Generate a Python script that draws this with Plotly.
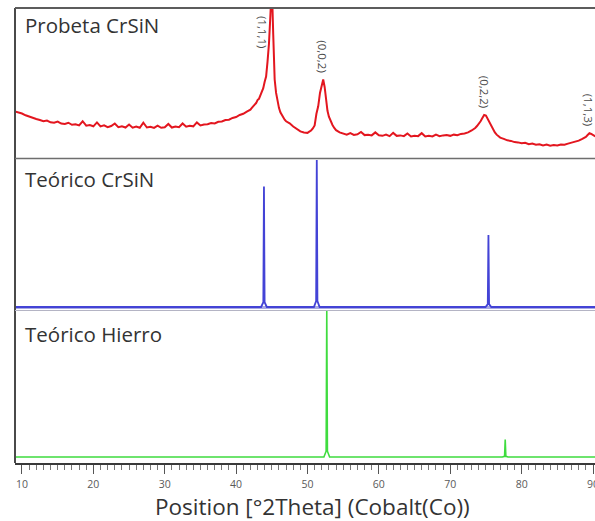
import plotly.graph_objects as go

W, H = 595, 521

# Measured pattern of the CrSiN specimen (Co K-alpha), counts in arbitrary units
two_theta = [
    9.0, 9.5, 10.0, 10.5, 11.0, 11.5, 12.0, 12.5, 13.0, 13.5, 14.0, 14.5, 15.0, 15.5,
    16.0, 16.5, 17.0, 17.5, 18.0, 18.5, 19.0, 19.5, 20.0, 20.5, 21.0, 21.5, 22.0, 22.5,
    23.0, 23.5, 24.0, 24.5, 25.0, 25.5, 26.0, 26.5, 27.0, 27.5, 28.0, 28.5, 29.0, 29.5,
    30.0, 30.5, 31.0, 31.5, 32.0, 32.5, 33.0, 33.5, 34.0, 34.5, 35.0, 35.5, 36.0, 36.5,
    37.0, 37.5, 38.0, 38.5, 39.0, 39.5, 40.0, 40.5, 41.0, 41.5, 42.0,
    42.2, 42.4, 42.6, 42.8, 43.0, 43.2, 43.4, 43.6, 43.8, 44.0, 44.2, 44.4, 44.6, 44.8,
    45.0, 45.2, 45.4, 45.6, 45.8, 46.0, 46.2, 46.4, 46.6, 46.8, 47.0,
    47.5, 48.0, 48.5, 49.0, 49.5, 50.0,
    50.25, 50.5, 50.75, 51.0, 51.25, 51.5, 51.75, 52.0, 52.2, 52.4, 52.6, 52.8, 53.0,
    53.25, 53.5, 53.75, 54.0, 54.5,
    55.0, 55.5, 56.0, 56.5, 57.0, 57.5, 58.0, 58.5, 59.0, 59.5, 60.0, 60.5, 61.0, 61.5,
    62.0, 62.5, 63.0, 63.5, 64.0, 64.5, 65.0, 65.5, 66.0, 66.5, 67.0, 67.5, 68.0, 68.5,
    69.0, 69.5, 70.0, 70.5, 71.0, 71.5, 72.0, 72.5, 73.0,
    73.25, 73.5, 73.75, 74.0, 74.25, 74.5, 74.75, 75.0, 75.25, 75.5, 75.75, 76.0,
    76.25, 76.5, 76.75, 77.0,
    77.5, 78.0, 78.5, 79.0, 79.5, 80.0, 80.5, 81.0, 81.5, 82.0, 82.5, 83.0, 83.5, 84.0,
    84.5, 85.0, 85.5, 86.0, 86.5, 87.0, 87.5, 88.0, 88.5, 89.0,
    89.25, 89.5, 89.75, 90.0, 90.25, 90.5,
]
counts = [
    305, 300, 292, 280, 270, 262, 255, 248, 240, 245, 233, 230, 238, 224,
    222, 230, 216, 220, 212, 240, 210, 215, 206, 232, 205, 212, 200, 208,
    225, 200, 206, 198, 218, 197, 205, 196, 230, 198, 203, 195, 210, 196,
    200, 222, 198, 205, 200, 225, 203, 210, 206, 232, 212, 218, 220, 228,
    225, 236, 238, 248, 250, 262, 268, 282, 290, 305, 318,
    330, 338, 352, 362, 382, 390, 412, 430, 462, 505, 540, 640, 760, 950,
    1160, 820, 520, 430, 370, 330, 300, 280, 262, 250, 240,
    226, 205, 188, 172, 165, 162,
    170, 178, 192, 212, 290, 340, 430, 490, 520, 470, 380, 310, 270,
    240, 215, 195, 180, 165,
    156, 150, 160, 148, 152, 168, 147, 150, 145, 165, 146, 142, 150, 140,
    162, 142, 145, 140, 158, 138, 143, 140, 160, 138, 142, 138, 150, 140,
    145, 148, 142, 150, 146, 155, 158, 165, 178,
    185, 195, 208, 222, 240, 262, 282, 278, 255, 230, 205, 180,
    165, 150, 140, 130,
    122, 112, 108, 100, 98, 92, 95, 86, 90, 82, 86, 78, 84, 76,
    80, 78, 84, 82, 90, 95, 102, 110, 122, 135,
    148, 160, 155, 145, 140, 138,
]

# Indexed reflections of the specimen
hkl_labels = ["(1,1,1)", "(0,0,2)", "(0,2,2)", "(1,1,3)"]
hkl_2theta = [45.0, 52.2, 74.9, 89.5]
hkl_counts = [1160, 520, 282, 160]

# Reference patterns (relative intensity, %)
crsin_2theta = [43.9, 51.3, 75.35]
crsin_rel = [82, 100, 49]
iron_2theta = [52.7, 77.7]
iron_rel = [100, 12]

panel_titles = ["Probeta CrSiN", "Teórico CrSiN", "Teórico Hierro"]
x_ticks = [10, 20, 30, 40, 50, 60, 70, 80, 90]
x_title = "Position [°2Theta] (Cobalt(Co))"

X_LO, X_HI = 9.02, 90.28


def px_y(py):
    return 1 - py / H


def stick_profile(pos, rel, lo=X_LO - 1, hi=X_HI + 1, foot=0.4):
    xs, ys = [lo], [0]
    for p, r in sorted(zip(pos, rel)):
        xs += [p - foot, p - 0.09, p, p + 0.09, p + foot]
        ys += [0, r * 0.04, r, r * 0.04, 0]
    xs.append(hi)
    ys.append(0)
    return xs, ys


fig = go.Figure()

fig.add_trace(go.Scatter(
    x=two_theta, y=counts, mode="lines", xaxis="x", yaxis="y",
    line=dict(color="#e3161f", width=2), hoverinfo="skip", showlegend=False,
))

bx, by = stick_profile(crsin_2theta, crsin_rel)
fig.add_trace(go.Scatter(
    x=bx, y=by, mode="lines", xaxis="x", yaxis="y2",
    line=dict(color="#4343d6", width=1.8), hoverinfo="skip", showlegend=False,
))

gx, gy = stick_profile(iron_2theta, iron_rel)
fig.add_trace(go.Scatter(
    x=gx, y=gy, mode="lines", xaxis="x", yaxis="y3",
    line=dict(color="#3fdc3f", width=1.6), hoverinfo="skip", showlegend=False,
))

axis_font = dict(family="Open Sans", size=10.5, color="#5a5a5a")

fig.update_layout(
    width=W, height=H,
    margin=dict(l=0, r=0, t=0, b=0, autoexpand=False),
    paper_bgcolor="white", plot_bgcolor="white",
    showlegend=False,
    xaxis=dict(
        domain=[15 / W, 1], range=[X_LO, X_HI], anchor="y3", automargin=False,
        showgrid=False, zeroline=False,
        showline=True, linecolor="#3a3a3a", linewidth=2,
        ticks="outside", ticklen=9, tickwidth=1, tickcolor="#555",
        tickvals=x_ticks, ticktext=[str(t) for t in x_ticks],
        tickfont=axis_font, ticklabelstandoff=1, ticklabeloverflow="allow",
        minor=dict(ticks="outside", ticklen=5, tickwidth=1, tickcolor="#777", dtick=1),
    ),
    yaxis=dict(domain=[px_y(157), px_y(8)], range=[0, 1000], visible=False,
               automargin=False),
    yaxis2=dict(domain=[px_y(309), px_y(159)], range=[-1.36, 100.7], visible=False,
                automargin=False),
    yaxis3=dict(domain=[px_y(463), px_y(311)], range=[-4.1, 100], visible=False,
                automargin=False),
)

shapes = [
    # frame: left and top edges
    dict(type="line", xref="paper", yref="paper", x0=15 / W, x1=15 / W,
         y0=px_y(8), y1=px_y(463), line=dict(color="#4a4a4a", width=2)),
    dict(type="line", xref="paper", yref="paper", x0=15 / W, x1=1,
         y0=px_y(8), y1=px_y(8), line=dict(color="#5c5c5c", width=2)),
    # panel separators
    dict(type="line", xref="paper", yref="paper", x0=15 / W, x1=1,
         y0=px_y(158.5), y1=px_y(158.5), line=dict(color="#6e6e6e", width=1.5)),
    dict(type="line", xref="paper", yref="paper", x0=15 / W, x1=1,
         y0=px_y(307.5), y1=px_y(307.5), line=dict(color="#a8a8e4", width=3),
         layer="below"),
    dict(type="line", xref="paper", yref="paper", x0=15 / W, x1=1,
         y0=px_y(310.5), y1=px_y(310.5), line=dict(color="#b4b4c4", width=1)),
]
fig.update_layout(shapes=shapes)

annotations = []
title_rows = [25, 179, 334]
for txt, py in zip(panel_titles, title_rows):
    annotations.append(dict(
        text=txt, xref="paper", yref="paper", x=23 / W, y=px_y(py),
        xanchor="left", yanchor="middle", showarrow=False,
        font=dict(family="Open Sans", size=20.5, color="#333333"),
    ))

# hkl labels above the specimen peaks
for lab, pos, c in zip(hkl_labels, hkl_2theta, hkl_counts):
    clipped = c > 1000
    annotations.append(dict(
        text=lab, x=pos, y=(720 if clipped else c), xref="x", yref="y",
        xanchor="center", yanchor="bottom", textangle=90, showarrow=False,
        xshift=(-10 if clipped else -1), yshift=(0 if clipped else 5),
        font=dict(family="Open Sans", size=11.5, color="#4a4a4a"),
    ))

annotations.append(dict(
    text=x_title, xref="paper", yref="paper", x=312 / W, y=px_y(506),
    xanchor="center", yanchor="middle", showarrow=False, borderpad=0,
    font=dict(family="Open Sans", size=22.5, color="#333333"),
))
fig.update_layout(annotations=annotations)

# the last tick label runs past the window edge; crop it instead of scrolling
fig.write_html(
    "out.html",
    post_script="document.documentElement.style.overflow='hidden';"
                "document.body.style.overflow='hidden';",
)
